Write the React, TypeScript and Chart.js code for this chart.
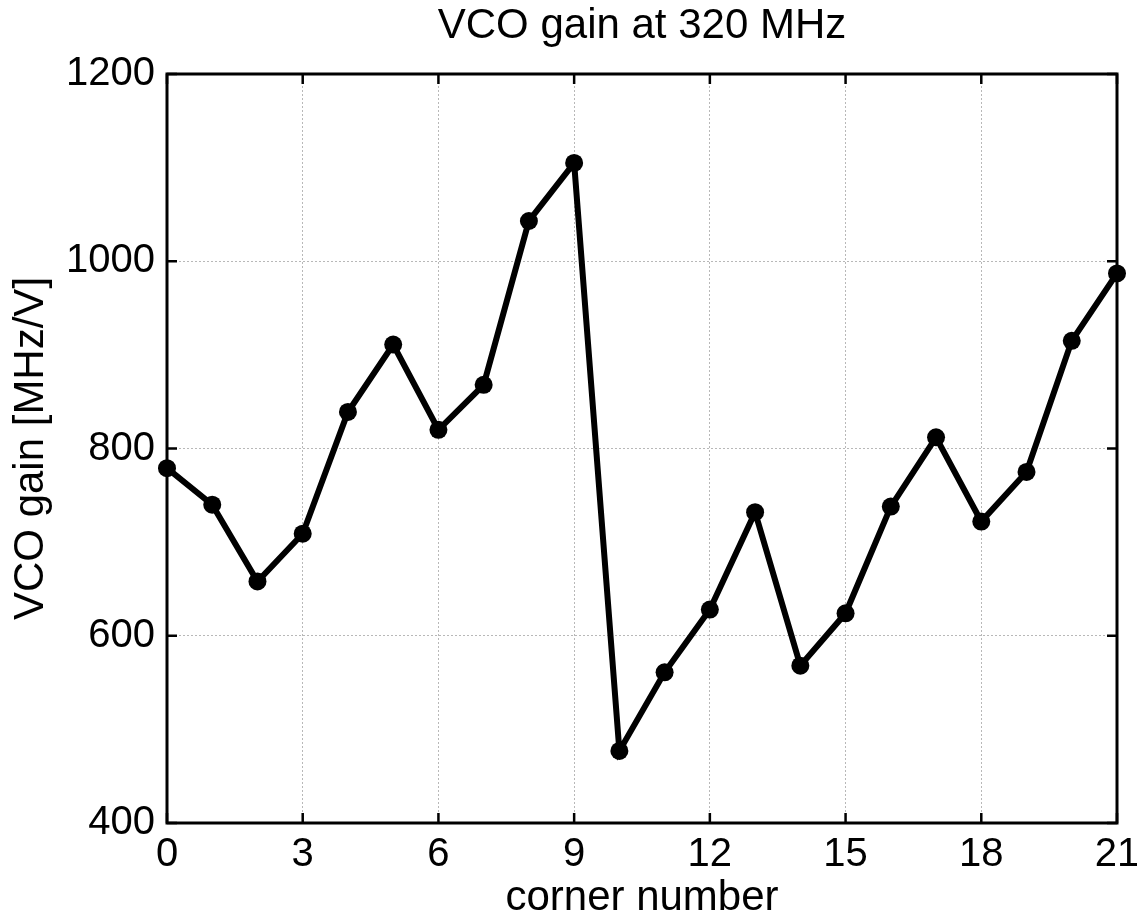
import React, { useEffect, useRef } from "react";
import { Chart, registerables } from "chart.js";

Chart.register(...registerables);

// Measured VCO gain per process corner
const cornerNumbers = [0, 1, 2, 3, 4, 5, 6, 7, 8, 9, 10, 11, 12, 13, 14, 15, 16, 17, 18, 19, 20, 21];
const vcoGain = [779, 740, 658, 709, 839, 911, 820, 868, 1043, 1105, 477, 561, 628, 732, 568, 624, 738, 812, 722, 775, 915, 987];

const xTickValues = [0, 3, 6, 9, 12, 15, 18, 21];
const yTickValues = [400, 600, 800, 1000, 1200];

const chartTitle = "VCO gain at 320 MHz";
const xAxisTitle = "corner number";
const yAxisTitle = "VCO gain [MHz/V]";

const FONT = "'Liberation Sans', Arial, Helvetica, sans-serif";

// Axes box with inward tick marks on all four sides
const boxPlugin = {
  id: "axesBox",
  beforeDatasetsDraw(chart: any) {
    const { ctx, chartArea, scales } = chart;
    const { left, right, top, bottom } = chartArea;
    const x = scales.x;
    const y = scales.y;
    const len = 10;
    ctx.save();
    ctx.strokeStyle = "#000";
    ctx.lineWidth = 3;
    ctx.strokeRect(left, top, right - left, bottom - top);
    ctx.lineWidth = 2.5;
    ctx.beginPath();
    for (const v of xTickValues) {
      const px = x.getPixelForValue(v);
      ctx.moveTo(px, bottom);
      ctx.lineTo(px, bottom - len);
      ctx.moveTo(px, top);
      ctx.lineTo(px, top + len);
    }
    for (const v of yTickValues) {
      const py = y.getPixelForValue(v);
      ctx.moveTo(left, py);
      ctx.lineTo(left + len, py);
      ctx.moveTo(right, py);
      ctx.lineTo(right - len, py);
    }
    ctx.stroke();
    ctx.restore();
  },
};

export default function App() {
  const canvasRef = useRef<HTMLCanvasElement | null>(null);

  useEffect(() => {
    const canvas = canvasRef.current;
    if (!canvas) return;

    const points = cornerNumbers.map((c, i) => ({ x: c, y: vcoGain[i] }));

    const gridOpts = {
      color: "#b8b8b8",
      lineWidth: 1,
      drawTicks: false,
    };

    const chart = new Chart(canvas, {
      type: "line",
      data: {
        datasets: [
          {
            data: points,
            borderColor: "#000",
            borderWidth: 6,
            backgroundColor: "#000",
            pointRadius: 9,
            pointBackgroundColor: "#000",
            pointBorderWidth: 0,
            tension: 0,
            clip: false as any,
          },
        ],
      },
      options: {
        animation: false,
        responsive: false,
        devicePixelRatio: 1,
        layout: { padding: { left: 0, right: 20, top: 0, bottom: 0 } },
        plugins: {
          legend: { display: false },
          tooltip: { enabled: false },
          title: {
            display: true,
            text: chartTitle,
            color: "#000",
            fullSize: false,
            font: { family: FONT, size: 42, weight: "normal" as any, lineHeight: 1.1 },
            padding: { top: 3, bottom: 24.8 },
          },
        },
        scales: {
          x: {
            type: "linear",
            min: 0,
            max: 21,
            afterBuildTicks: (scale: any) => {
              scale.ticks = xTickValues.map((v) => ({ value: v }));
            },
            afterFit: (scale: any) => {
              scale.height = 92;
              scale.paddingLeft = 0;
              scale.paddingRight = 0;
            },
            ticks: {
              color: "#000",
              padding: 8,
              maxRotation: 0,
              autoSkip: false,
              font: { family: FONT, size: 40 },
              callback: (v: any) => String(v),
            },
            grid: gridOpts,
            border: { display: false, dash: [2, 2] },
            title: {
              display: true,
              text: xAxisTitle,
              color: "#000",
              font: { family: FONT, size: 42, lineHeight: 0.81 },
              padding: { top: 0, bottom: 0 },
            },
          },
          y: {
            type: "linear",
            min: 400,
            max: 1200,
            afterBuildTicks: (scale: any) => {
              scale.ticks = yTickValues.map((v) => ({ value: v }));
            },
            afterFit: (scale: any) => {
              scale.width = 167;
              scale.paddingTop = 0;
              scale.paddingBottom = 0;
            },
            ticks: {
              color: "#000",
              padding: 12,
              autoSkip: false,
              font: { family: FONT, size: 40 },
              callback: (v: any) => String(v),
            },
            grid: gridOpts,
            border: { display: false, dash: [2, 2] },
            title: {
              display: true,
              text: yAxisTitle,
              color: "#000",
              font: { family: FONT, size: 42, lineHeight: 1.2 },
              padding: { top: 6, bottom: 0 },
            },
          },
        },
      },
      plugins: [boxPlugin],
    });

    return () => {
      chart.destroy();
    };
  }, []);

  return (
    <div style={{ position: "absolute", left: 0, top: 0, width: 1137, height: 915, background: "#fff" }}>
      <canvas ref={canvasRef} width={1137} height={915} />
    </div>
  );
}
